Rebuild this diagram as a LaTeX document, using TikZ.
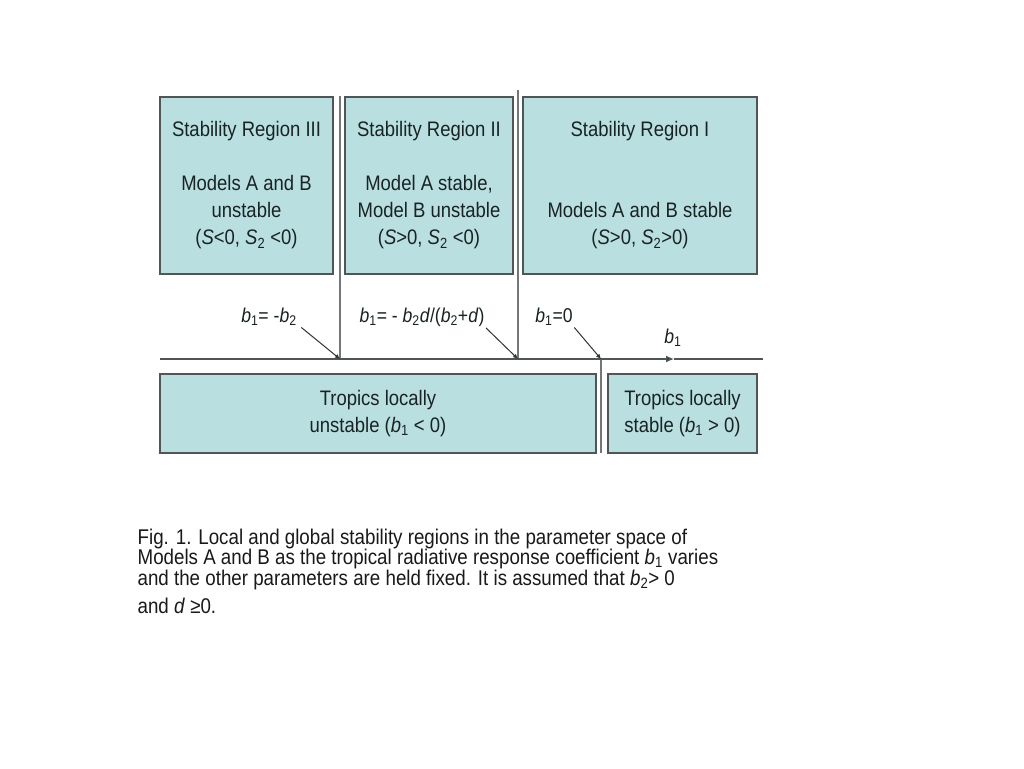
\documentclass[tikz,border=0pt]{standalone}
\usepackage{fontspec}
\setmainfont{Liberation Sans}[FakeStretch=0.88]
\usetikzlibrary{arrows.meta}
\definecolor{boxfill}{RGB}{185,223,225}
\definecolor{boxline}{RGB}{80,85,85}
\definecolor{ink}{RGB}{25,35,35}
\tikzset{every picture/.style={line width=1.3pt},
  region/.style={draw=boxline, fill=boxfill, minimum width=#1, minimum height=177pt,
    inner sep=0pt, align=center, text=ink, font=\fontsize{21}{27}\selectfont},
  tropics/.style={region=#1, minimum height=79pt},
  bound/.style={inner sep=1pt, text=ink, font=\fontsize{20}{24}\selectfont},
  pointer/.style={draw=black!80, line width=1pt, -{Latex[length=5pt,width=4.5pt]}},
  divider/.style={draw=boxline!80, line width=1.3pt}}
\newcommand{\bsub}[1]{\textit{b}\textsubscript{#1}}
\newcommand{\ssub}[1]{\textit{S}\textsubscript{#1}}

\begin{document}
\begin{tikzpicture}[x=1pt, y=-1pt]
      \useasboundingbox[fill=white] (0,0) rectangle (1024,768);
      \node[region=173pt] (reg3) at (246.5,185.5) {Stability Region III\\[27pt] Models A and B\\ unstable\\ (\textit{S}<0, \ssub{2} <0)};
      \node[region=168pt] (reg2) at (429,185.5) {Stability Region II\\[27pt] Model A stable,\\ Model B unstable\\ (\textit{S}>0, \ssub{2} <0)};
      \node[region=234pt] (reg1) at (640,185.5) {Stability Region I\\[54pt] Models A and B stable\\ (\textit{S}>0, \ssub{2}>0)};
      \node[tropics=436pt] (unstable) at (378,413.5) {Tropics locally\\ unstable (\bsub{1} < 0)};
      \node[tropics=149pt] (stable) at (682.5,413.5) {Tropics locally\\ stable (\bsub{1} > 0)};

      \coordinate (axisL) at (160,359);
      \coordinate (axisR) at (763,359);
      \coordinate (tip) at (674,359);
      \coordinate (c1) at (340,359);
      \coordinate (c2) at (518,359);
      \coordinate (c3) at (601,359);
      \coordinate (top1) at (340,96);
      \coordinate (top2) at (518,90);
      \coordinate (bot3) at (601,453);

      \node[bound] (lab1) at (269,317) {\bsub{1}= -\bsub{2}};
      \node[bound] (lab2) at (422,317) {\bsub{1}= - \bsub{2}\textit{d}/(\bsub{2}+\textit{d})};
      \node[bound] (lab3) at (554,317) {\bsub{1}=0};
      \node[bound] (axlab) at (673,338) {\bsub{1}};

      \draw[divider] (top1) -- (c1);
      \draw[divider] (top2) -- (c2);
      \draw[divider] (c3) -- (bot3);
      \draw[boxline, -{Latex[length=8pt,width=7pt]}, arrows={[fill=black!80]}] (axisL) -- (tip);
      \draw[boxline] (tip) -- (axisR);
      \draw[pointer] ([xshift=3pt]lab1.south east) -- (c1);
      \draw[pointer] (lab2.south east) -- (c2);
      \draw[pointer] (lab3.south east) -- (c3);

      \node[anchor=north west, inner sep=0pt, align=left, text=black!90, font=\fontsize{21.3}{20.6}\selectfont] (caption) at (137,528)
        {Fig. 1. Local and global stability regions in the parameter space of\\
         Models A and B as the tropical radiative response coefficient \bsub{1} varies\\
         and the other parameters are held fixed. It is assumed that \bsub{2}> 0\\[8pt]
         and \textit{d} ≥0.};
\end{tikzpicture}
\end{document}
